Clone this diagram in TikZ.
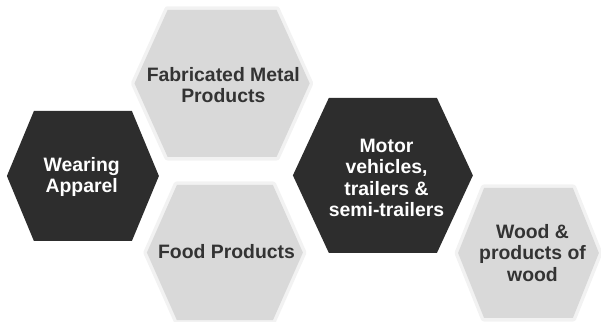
\documentclass[tikz,border=0pt]{standalone}
\usepackage{fontspec}
\usepackage{tikz}
\usetikzlibrary{positioning}
\usepackage{xcolor}
\newfontfamily\hexfont{Liberation Sans}
\definecolor{HexDark}{HTML}{2D2D2D}
\definecolor{HexLight}{HTML}{D9D9D9}
\definecolor{HexGlow}{HTML}{F2F2F2}
\definecolor{HexInk}{HTML}{333333}

\begin{document}
\begin{tikzpicture}[
    darkhex/.style={fill=HexDark},
    lighthex/.style={fill=HexLight,preaction={draw=HexGlow,line width=5pt,line join=round}},
    label/.style={font=\hexfont\bfseries\fontsize{13.8}{15.2}\selectfont,align=center,inner sep=0pt},
    darklabel/.style={label,text=white},
    lightlabel/.style={label,text=HexInk}]
  \useasboundingbox (-7.5125,-4.025) rectangle (7.5125,4.025);

  % hexagons: centre / half width / half height / slant / style
  \foreach \cx/\cy/\w/\h/\d/\s in {-5.44/-.375/1.90/1.625/.675/darkhex,
                                    -1.96/1.94/2.19/1.84/.83/lighthex,
                                    -1.89/-2.29/1.95/1.69/.75/lighthex,
                                    2.06/-.36/2.25/1.94/.90/darkhex,
                                    5.70/-2.30/1.76/1.625/.65/lighthex}{
    \path[\s] (\cx-\w,\cy)--(\cx-\w+\d,\cy+\h)--(\cx+\w-\d,\cy+\h)
              --(\cx+\w,\cy)--(\cx+\w-\d,\cy-\h)--(\cx-\w+\d,\cy-\h)--cycle;
  }

  % labels
  \node[darklabel] (wear) at (-5.47,-.40) {Wearing\\Apparel};
  \node[lightlabel] (metal) at (-1.93,1.90) {Fabricated Metal\\Products};
  \node[lightlabel] (food) at (-1.85,-2.275) {Food Products};
  \node[darklabel] (motor) at (2.15,-.42) {Motor\\vehicles,\\trailers \&\\semi-trailers};
  \node[lightlabel] (wood) at (5.80,-2.30) {Wood \&\\products of\\wood};
\end{tikzpicture}
\end{document}
